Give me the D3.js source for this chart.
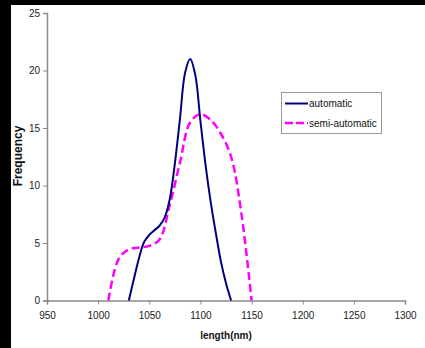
<!DOCTYPE html>
<html><head><meta charset="utf-8">
<script src="https://cdn.jsdelivr.net/npm/d3@7"></script>
<style>html,body{margin:0;padding:0;background:#000;}svg{display:block;}</style>
</head><body>
<script>
const xTicks = [950, 1000, 1050, 1100, 1150, 1200, 1250, 1300];
const yTicks = [0, 5, 10, 15, 20, 25];
const autoLengths = [1030,1035,1040,1045,1050,1055,1060,1065,1070,1075,1080,1085,1090,1095,1100,1105,1110,1115,1120,1125,1130];
const autoFreq    = [0,1.9,3.7,5.1,5.7,6.1,6.5,7.2,8.8,11.9,15.8,19.8,21,19.6,15.6,11.8,8.6,5.9,3.4,1.5,0];
const semiLengths = [1010,1020,1030,1040,1050,1060,1070,1080,1090,1100,1110,1120,1130,1140,1150];
const semiFreq    = [0,3.6,4.45,4.6,4.75,5.3,8.3,12.0,15.5,16.2,15.7,14.5,12.5,7.6,0];
const seriesNames = ["automatic", "semi-automatic"];

const W = 425, H = 348;
const svg = d3.select("body").append("svg").attr("width", W).attr("height", H);
svg.append("rect").attr("x", 11).attr("y", 5).attr("width", W - 11).attr("height", H - 5).attr("fill", "#fff");

const x = d3.scaleLinear().domain([950, 1300]).range([47, 405]);
const y = d3.scaleLinear().domain([0, 25]).range([300.5, 13]);

const font = "Arial, 'Liberation Sans', sans-serif";

const xAxis = svg.append("g").attr("transform", "translate(0,300.5)")
  .call(d3.axisBottom(x).tickValues(xTicks).tickSize(4).tickPadding(7).tickFormat(d3.format("d")));
const yAxis = svg.append("g").attr("transform", "translate(47,0)")
  .call(d3.axisLeft(y).tickValues(yTicks).tickSize(4).tickPadding(3));
[xAxis, yAxis].forEach(g => {
  g.select(".domain").attr("stroke", "#8a8a8a").attr("stroke-width", 1.5);
  g.selectAll(".tick line").attr("stroke", "#8a8a8a").attr("stroke-width", 1);
  g.selectAll(".tick text").attr("fill", "#222").attr("font-family", font).attr("font-size", 10);
});

const line = d3.line().x(d => x(d[0])).y(d => y(d[1])).curve(d3.curveCatmullRom.alpha(0.5));
const autoData = autoLengths.map((l, i) => [l, autoFreq[i]]);
const semiData = semiLengths.map((l, i) => [l, semiFreq[i]]);

svg.append("path").datum(semiData).attr("d", line).attr("fill", "none")
  .attr("stroke", "#ff00ff").attr("stroke-width", 2.5).attr("stroke-dasharray", "8,4");
svg.append("path").datum(autoData).attr("d", line).attr("fill", "none")
  .attr("stroke", "#000080").attr("stroke-width", 2);

svg.append("text").attr("x", 226).attr("y", 339).attr("text-anchor", "middle")
  .attr("font-family", font).attr("font-weight", "bold").attr("font-size", 10).attr("fill", "#111")
  .text("length(nm)");
svg.append("text").attr("transform", "translate(22,156) rotate(-90)").attr("text-anchor", "middle")
  .attr("font-family", font).attr("font-weight", "bold").attr("font-size", 12).attr("fill", "#111")
  .text("Frequency");

// legend
const lg = svg.append("g");
lg.append("rect").attr("x", 281.5).attr("y", 92.5).attr("width", 100).attr("height", 41)
  .attr("fill", "#fff").attr("stroke", "#999").attr("stroke-width", 1);
const legendStyles = [{c: "#000080", w: 2, dash: null}, {c: "#ff00ff", w: 2.5, dash: "8,3"}];
seriesNames.forEach((n, i) => {
  const yy = 103.5 + i * 19.5;
  lg.append("line").attr("x1", 285).attr("x2", 308).attr("y1", yy).attr("y2", yy)
    .attr("stroke", legendStyles[i].c).attr("stroke-width", legendStyles[i].w)
    .attr("stroke-dasharray", legendStyles[i].dash);
  lg.append("text").attr("x", 309).attr("y", yy + 3.5).attr("font-family", font).attr("font-size", 10)
    .attr("fill", "#111").text(n);
});
</script>
</body></html>
